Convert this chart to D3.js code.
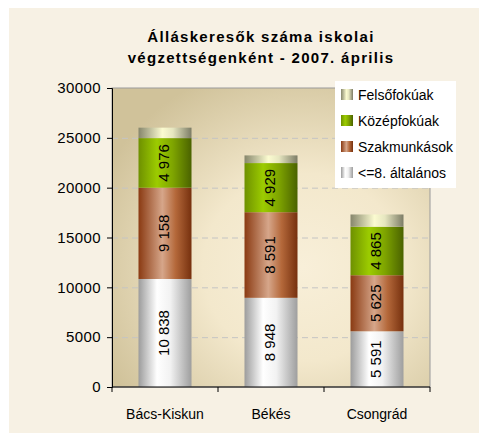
<!DOCTYPE html>
<html>
<head>
<meta charset="utf-8">
<script src="https://cdn.jsdelivr.net/npm/d3@7"></script>
<style>
  body { margin: 0; background: #fff; }
  text { font-family: "Liberation Sans", Arial, sans-serif; }
</style>
</head>
<body>
<script>
const categories = ['Bács-Kiskun', 'Békés', 'Csongrád'];
const alt8 = [10838, 8948, 5591];
const szak = [9158, 8591, 5625];
const kozep = [4976, 4929, 4865];
const felso = [1050, 770, 1230];
const seriesNames = ['<=8. általános', 'Szakmunkások', 'Középfokúak', 'Felsőfokúak'];
const yTicks = [0, 5000, 10000, 15000, 20000, 25000, 30000];
const titleLines = ['Álláskeresők száma iskolai', 'végzettségenként - 2007. április'];

const width = 479, height = 433;
const plot = { left: 112, top: 88, right: 430, bottom: 387 };

const rows = categories.map((c, i) => ({
  cat: c, s0: alt8[i], s1: szak[i], s2: kozep[i], s3: felso[i]
}));
const keys = ['s0', 's1', 's2', 's3'];
const stacked = d3.stack().keys(keys)(rows);

const x = d3.scaleBand()
  .domain(categories)
  .range([plot.left, plot.right])
  .padding(0);

const y = d3.scaleLinear()
  .domain([0, 30000])
  .range([plot.bottom, plot.top]);

const svg = d3.select('body').append('svg')
  .attr('width', width)
  .attr('height', height);

const defs = svg.append('defs');

function hGrad(id, stops) {
  const g = defs.append('linearGradient').attr('id', id)
    .attr('x1', '0%').attr('x2', '100%').attr('y1', '0%').attr('y2', '0%');
  stops.forEach(s => g.append('stop').attr('offset', s[0]).attr('stop-color', s[1]));
}

hGrad('g0', [['0%', '#9c9c9c'], ['35%', '#ffffff'], ['60%', '#f2f2f2'], ['100%', '#9e9e9e']]);
hGrad('g1', [['0%', '#8a3a12'], ['45%', '#d6a68a'], ['70%', '#b4683a'], ['100%', '#76300e']]);
hGrad('g2', [['0%', '#6e9000'], ['35%', '#9ccc00'], ['65%', '#7ea400'], ['100%', '#4a6200']]);
hGrad('g3', [['0%', '#86866c'], ['45%', '#fbfbd0'], ['65%', '#e6e6c0'], ['100%', '#7c7c66']]);

const bg = defs.append('radialGradient').attr('id', 'plotbg')
  .attr('cx', '60%').attr('cy', '60%').attr('r', '70%');
bg.append('stop').attr('offset', '0%').attr('stop-color', '#f8efd9');
bg.append('stop').attr('offset', '45%').attr('stop-color', '#f3e8cc');
bg.append('stop').attr('offset', '100%').attr('stop-color', '#d0c29a');

// outer chart area
svg.append('rect')
  .attr('x', 9).attr('y', 8)
  .attr('width', width - 9).attr('height', height - 8)
  .attr('fill', '#f7f1e4');

// title
svg.append('g').selectAll('text')
  .data(titleLines)
  .join('text')
  .attr('x', 261)
  .attr('y', (d, i) => 42 + i * 21)
  .attr('text-anchor', 'middle')
  .style('font-size', '15px')
  .style('font-weight', 'bold')
  .style('letter-spacing', '1.3px')
  .text(d => d);

// plot area
svg.append('rect')
  .attr('x', plot.left).attr('y', plot.top)
  .attr('width', plot.right - plot.left)
  .attr('height', plot.bottom - plot.top)
  .attr('fill', 'url(#plotbg)')
  .attr('stroke', '#9a9a9a');

// gridlines
svg.append('g').selectAll('line')
  .data(yTicks.filter(d => d > 0 && d < 30000))
  .join('line')
  .attr('x1', plot.left).attr('x2', plot.right)
  .attr('y1', d => y(d) + 0.5).attr('y2', d => y(d) + 0.5)
  .attr('stroke', '#c4c4c4')
  .attr('stroke-dasharray', '6,4');

// bars
const layer = svg.append('g').selectAll('g')
  .data(stacked)
  .join('g')
  .attr('fill', (d, i) => 'url(#g' + i + ')');

const barW = x.bandwidth() * 0.5;

layer.selectAll('rect')
  .data(d => d)
  .join('rect')
  .attr('x', d => x(d.data.cat) + (x.bandwidth() - barW) / 2)
  .attr('y', d => y(d[1]))
  .attr('width', barW)
  .attr('height', d => y(d[0]) - y(d[1]));

// value labels (not for Felsőfokúak)
const fmt = v => d3.format(',')(v).replace(/,/g, ' ');
stacked.slice(0, 3).forEach(s => {
  svg.append('g').selectAll('text')
    .data(s)
    .join('text')
    .attr('transform', d => 'translate(' + (x(d.data.cat) + x.bandwidth() / 2 - 1) + ',' +
      (y((d[0] + d[1]) / 2)) + ')rotate(-90)')
    .attr('text-anchor', 'middle')
    .attr('dy', '0.35em')
    .style('font-size', '15px')
    .attr('fill', '#000')
    .text(d => fmt(d[1] - d[0]));
});

// y axis
const yAxis = svg.append('g')
  .attr('transform', 'translate(' + plot.left + ',0)')
  .call(d3.axisLeft(y).tickValues(yTicks).tickSize(5).tickPadding(6).tickFormat(d3.format('d')));
yAxis.select('.domain').attr('stroke', '#000');
yAxis.selectAll('.tick line').attr('stroke', '#000');
yAxis.selectAll('.tick text')
  .style('font-size', '15px')
  .style('font-family', '"Liberation Sans", Arial, sans-serif')
  .style('letter-spacing', '0.4px')
  .attr('fill', '#000');

// x axis
const xg = svg.append('g');
xg.append('line')
  .attr('x1', plot.left).attr('x2', plot.right)
  .attr('y1', plot.bottom).attr('y2', plot.bottom)
  .attr('stroke', '#000');
const edges = categories.map(c => x(c)).concat([x.range()[1]]);
xg.selectAll('line.tk')
  .data(edges)
  .join('line')
  .attr('class', 'tk')
  .attr('x1', d => d).attr('x2', d => d)
  .attr('y1', plot.bottom).attr('y2', plot.bottom + 5)
  .attr('stroke', '#000');
xg.selectAll('text')
  .data(categories)
  .join('text')
  .attr('x', d => x(d) + x.bandwidth() / 2)
  .attr('y', 419)
  .attr('text-anchor', 'middle')
  .style('font-size', '14px')
  .text(d => d);

// legend
const legend = svg.append('g');
legend.append('rect')
  .attr('x', 335).attr('y', 81)
  .attr('width', 121).attr('height', 107)
  .attr('fill', '#fff');
const legendItems = [3, 2, 1, 0];
const li = legend.selectAll('g.item')
  .data(legendItems)
  .join('g')
  .attr('class', 'item')
  .attr('transform', (d, i) => 'translate(341,' + (94.5 + i * 26) + ')');
li.append('rect')
  .attr('x', 0).attr('y', -5.5)
  .attr('width', 12).attr('height', 11)
  .attr('fill', d => 'url(#g' + d + ')');
li.append('text')
  .attr('x', 17).attr('y', 5)
  .style('font-size', '14px')
  .text(d => seriesNames[d]);
</script>
</body>
</html>
